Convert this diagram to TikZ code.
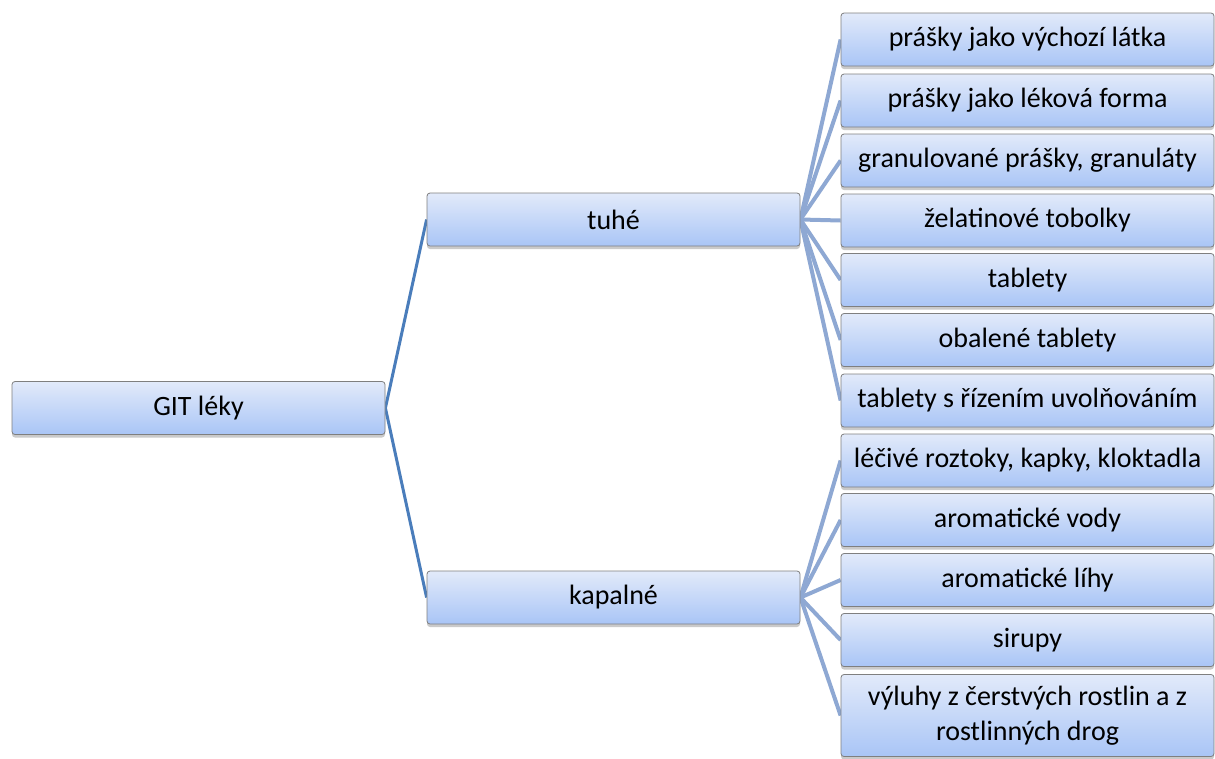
\documentclass[tikz,border=0pt]{standalone}
\usepackage{fontspec}
\setmainfont{Carlito}
\usetikzlibrary{shadows,backgrounds}
\definecolor{topc}{HTML}{E2EAFA}
\definecolor{botc}{HTML}{A9C5F6}
\definecolor{edgec}{HTML}{7F7F7F}
\definecolor{mainline}{HTML}{4A7DBB}
\definecolor{subline}{HTML}{8EA8D3}
\tikzset{
  box/.style={draw=edgec, line width=0.8pt, rounded corners=3pt, top color=topc, bottom color=botc,
    minimum width=373pt, minimum height=53pt, align=center, inner sep=2pt,
    font=\fontsize{28}{35}\selectfont,
    drop shadow={shadow xshift=0pt, shadow yshift=-3pt, opacity=0.35, fill=black!60}},
  mainconn/.style={draw=mainline, line width=3pt},
  subconn/.style={draw=subline, line width=4pt},
}
\begin{document}
\begin{tikzpicture}[x=1pt,y=-1pt]
\useasboundingbox (0,0) rectangle (1215,758);
\node[box] (root) at (198.5,408) {GIT léky};
\node[box] (tuhe) at (613.5,219.5) {tuhé};
\node[box] (kap) at (613.5,597.5) {kapalné};
\node[box] (c1) at (1027.5,39.5) {prášky jako výchozí látka};
\node[box] (c2) at (1027.5,100.5) {prášky jako léková forma};
\node[box] (c3) at (1027.5,160.5) {granulované prášky, granuláty};
\node[box] (c4) at (1027.5,220.5) {želatinové tobolky};
\node[box] (c5) at (1027.5,280) {tablety};
\node[box] (c6) at (1027.5,340) {obalené tablety};
\node[box] (c7) at (1027.5,400.5) {tablety s řízením uvolňováním};
\node[box] (c8) at (1027.5,460.5) {léčivé roztoky, kapky, kloktadla};
\node[box] (c9) at (1027.5,520) {aromatické vody};
\node[box] (c10) at (1027.5,580) {aromatické líhy};
\node[box] (c11) at (1027.5,640) {sirupy};
\node[box, minimum height=82pt] (c12) at (1027.5,715.5) {výluhy z čerstvých rostlin a z\\rostlinných drog};
\begin{scope}[on background layer]
\draw[mainconn] (root.east) -- (tuhe.west);
\draw[mainconn] (root.east) -- (kap.west);
\foreach \c in {c1,c2,c3,c4,c5,c6,c7}{\draw[subconn] (tuhe.east) -- (\c.west);}
\foreach \c in {c8,c9,c10,c11,c12}{\draw[subconn] (kap.east) -- (\c.west);}
\end{scope}
\end{tikzpicture}
\end{document}
